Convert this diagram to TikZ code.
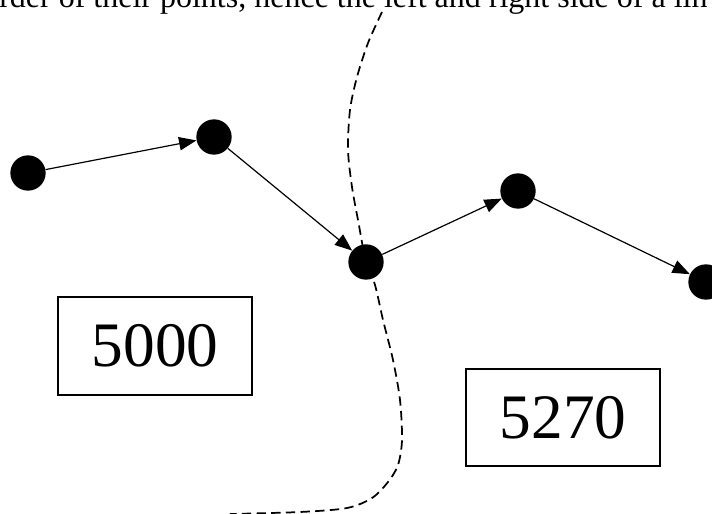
\documentclass[tikz,border=0pt]{standalone}
\usepackage{fontspec}
\setmainfont{Liberation Serif}
\usetikzlibrary{arrows.meta}

\begin{document}
\begin{tikzpicture}[x=0.75pt,y=-0.75pt,
  pt/.style={circle,fill=black,inner sep=0pt,minimum size=26.5pt},
  edge/.style={line width=0.9pt,-{Triangle[length=13pt,width=10pt]}},
  border/.style={line width=1.3pt,dash pattern=on 7pt off 4pt},
  valbox/.style={draw,line width=1.4pt,minimum width=145pt,minimum height=73pt,inner sep=0pt,
    font=\fontsize{47.5}{50}\selectfont}]
\useasboundingbox (0,0) rectangle (712,513);
\clip (0,0) rectangle (712,513);
\fill[white] (0,0) rectangle (712,513);
% cut-off line of text at the top
\node[anchor=base west,inner sep=0pt,font=\fontsize{24}{26}\selectfont] (cap) at (-1,8)
  {rder of their points, hence the left and right side of a lin};
% dashed boundary
\draw[border] plot[smooth] coordinates {(382,12) (368,43) (357,77) (350,110) (348,150) (352,187)
  (358,220) (366,262) (375,285) (383,320) (393,360) (400,400) (402,440) (398,465) (388,482)
  (372,498) (347,508) (300,512) (230,514)};
% points of the line
\node[pt] (p1) at (28,173) {};
\node[pt] (p2) at (214,137) {};
\node[pt] (p3) at (366,262) {};
\node[pt] (p4) at (518,191) {};
\node[pt] (p5) at (706,282) {};
\draw[edge] (p1) -- (p2);
\draw[edge] (p2) -- (p3);
\draw[edge] (p3) -- (p4);
\draw[edge] (p4) -- (p5);
% values
\node[valbox] (left) at (155,346) {5000};
\node[valbox] (right) at (563,417.5) {5270};
\end{tikzpicture}
\end{document}
